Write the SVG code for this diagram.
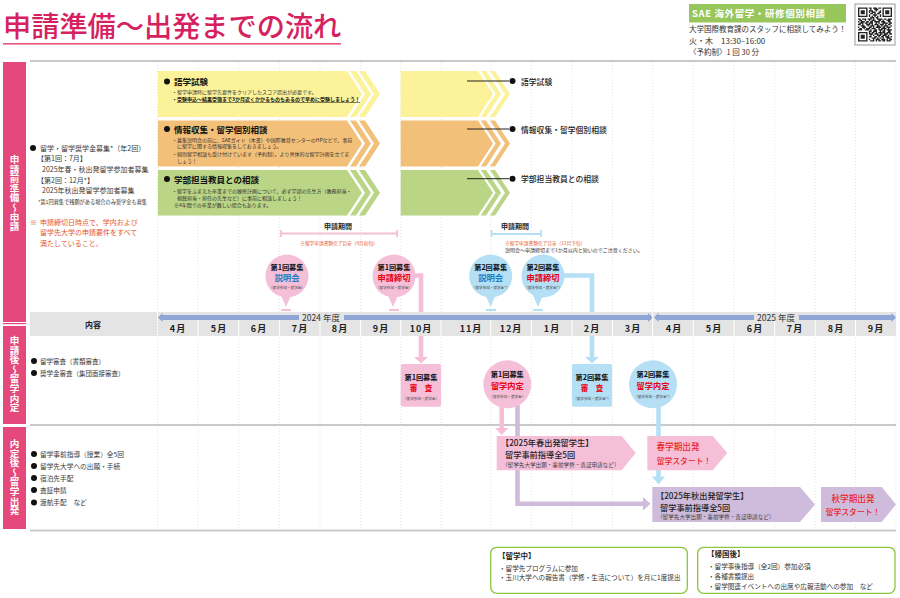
<svg xmlns="http://www.w3.org/2000/svg" width="900" height="598" viewBox="0 0 900 598">
<style>
text{font-family:"Noto Sans CJK JP","Noto Sans",sans-serif;fill:#2a2a2a}
.band{fill:#e5487a}
.bandt{font-size:9.6px;font-weight:700;fill:#fff;writing-mode:vertical-rl;text-anchor:middle}
.rule{stroke:#c9c9c9;stroke-width:2;fill:none}
.grid{stroke:#e6e6e6;stroke-width:1;stroke-dasharray:1 2;fill:none}
.yel{fill:#fbf29a}.ora{fill:#f3c07a}.gre{fill:#b9d585}
.hd{font-size:8.5px;font-weight:700;fill:#111}
.sm{font-size:5px;fill:#333}
.lt{font-size:7px;fill:#3a3a3a}
.or{font-size:7px;fill:#e8562a}
.lb{font-size:7.8px;font-weight:500;fill:#222}
.mon{font-size:9px;font-weight:700;text-anchor:middle;fill:#222;letter-spacing:1px}
.pk{fill:#f6bfd8}.bl{fill:#b5dff5}.pu{fill:#cfbcdc}
.ln{fill:none;stroke-width:4.6}
.tt{font-size:7.2px;font-weight:700;text-anchor:middle;fill:#111}
.rd{font-size:8.2px;font-weight:700;text-anchor:middle;fill:#e60012}
.bu{font-size:8.4px;font-weight:700;text-anchor:middle;fill:#1b7fc4}
.ti{font-size:3.6px;text-anchor:middle;fill:#444}
.pt{font-size:8.2px;font-weight:500;fill:#222}
.ps{font-size:5.6px;fill:#444}
.st{font-size:8.6px;font-weight:500;text-anchor:middle;fill:#e8282a}
.st2{font-size:7.8px}
.bx{fill:#fff;stroke:#8cc63f;stroke-width:1.3}
.bt{font-size:6.6px;fill:#333}
.bh{font-size:7.5px;font-weight:700;fill:#222}
.yr{font-size:8.5px;text-anchor:middle;fill:#333}
.oe{font-size:4.7px;fill:#e8562a}
</style>

<g id="title">
<text x="3" y="37" style="font-size:28.2px;font-weight:500;fill:#d6215f">申請準備～出発までの流れ</text>
<rect x="3" y="43" width="338" height="1.6" fill="#e8567f"/>
</g>

<g id="consult">
<rect x="689" y="4" width="157" height="18.500" fill="#97c65a"/>
<text x="692" y="17" textLength="133" style="font-size:9.5px;font-weight:700;fill:#fff">SAE 海外留学・研修個別相談</text>
<text x="689" y="32" style="font-size:7.5px;fill:#333">大学国際教育課のスタッフに相談してみよう！</text>
<text x="689" y="43.500" style="font-size:8px;fill:#333">火・木　13:30–16:00</text>
<text x="689" y="55" style="font-size:7.5px;fill:#333">〈予約制〉1 回 30 分</text>
</g>

<g id="qr">
<rect x="855" y="4" width="40" height="41" fill="#fff" stroke="#999" stroke-width="1"/>
<g transform="translate(858 7.500) scale(1.36)">
<path d="M.5 .5h6v6h-6zM18.500 .5h6v6h-6zM.5 18.500h6v6h-6z" fill="none" stroke="#222" stroke-width="1"/>
<path d="M2 2h3v3h-3zM20 2h3v3h-3zM2 20h3v3h-3z" fill="#222"/>
<path stroke="#222" stroke-width="1" fill="none" d="M8 .5h2M11 .5h3M15 .5h2M9 1.500h1M12 1.500h3M8 2.500h3M13 2.500h1M16 2.500h1M8 3.500h1M10 3.500h3M15 3.500h2M9 4.500h2M12 4.500h1M14 4.500h2M8 5.500h1M11 5.500h3M16 5.500h1M8 6.500h1M10 6.500h1M12 6.500h1M14 6.500h1M16 6.500h1M9 7.500h3M13 7.500h2M0 8.500h2M3 8.500h3M7 8.500h3M11 8.500h1M14 8.500h4M19 8.500h2M22 8.500h3M1 9.500h2M5 9.500h1M8 9.500h1M10 9.500h3M15 9.500h2M18 9.500h1M21 9.500h3M0 10.500h1M2 10.500h3M6 10.500h2M9 10.500h2M12 10.500h4M17 10.500h3M22 10.500h2M1 11.500h3M5 11.500h2M8 11.500h3M13 11.500h1M15 11.500h1M18 11.500h4M23 11.500h2M0 12.500h2M3 12.500h1M6 12.500h3M10 12.500h1M12 12.500h3M16 12.500h3M20 12.500h1M22 12.500h2M2 13.500h3M7 13.500h1M9 13.500h3M14 13.500h2M17 13.500h1M19 13.500h3M24 13.500h1M0 14.500h1M3 14.500h3M8 14.500h2M11 14.500h1M13 14.500h4M18 14.500h2M21 14.500h3M1 15.500h2M4 15.500h1M6 15.500h3M10 15.500h3M15 15.500h1M17 15.500h4M22 15.500h1M0 16.500h3M5 16.500h3M9 16.500h1M12 16.500h2M15 16.500h3M19 16.500h1M21 16.500h4M8 17.500h2M11 17.500h3M16 17.500h1M18 17.500h2M22 17.500h2M8 18.500h1M10 18.500h2M13 18.500h1M15 18.500h3M8 19.500h3M12 19.500h3M16 19.500h1M9 20.500h1M11 20.500h1M14 20.500h3M8 21.500h2M12 21.500h2M15 21.500h1M10 22.500h3M14 22.500h1M16 22.500h1M8 23.500h1M11 23.500h1M13 23.500h3M9 24.500h3M13 24.500h1M15 24.500h2"/>
<path stroke="#222" stroke-width="1" fill="none" d="M18 18.500h2M21 18.500h3M17 19.500h1M19 19.500h3M23 19.500h2M18 20.500h3M22 20.500h1M17 21.500h2M20 21.500h3M24 21.500h1M18 22.500h1M21 22.500h3M17 23.500h3M21 23.500h1M23 23.500h2M18 24.500h2M21 24.500h3"/>
</g>
</g>

<g id="bands">
<g id="band-1"><rect class="band" x="3" y="62" width="23" height="260"/><rect x="3" y="323" width="23" height="1.200" fill="#e5487a"/><text class="bandt" x="14.500" y="193">申請前準備～申請</text></g>
<g id="band-2"><rect class="band" x="3" y="326" width="23" height="98"/><text class="bandt" x="14.500" y="374">申請後～留学内定</text></g>
<g id="band-3"><rect class="band" x="3" y="427" width="23" height="102"/><text class="bandt" x="14.500" y="477">内定後～留学出発</text></g>
</g>

<g id="grid">
<path class="grid" d="M157.500 62V530M198 62V530M238.800 62V530M279.400 62V530M320 62V530M360.600 62V530M400.700 62V530M441 62V530M490.700 62V530M531.300 62V530M572 62V530M612.500 62V530M652.700 62V530M693.300 62V530M734 62V530M774.700 62V530M815.200 62V530M855.500 62V530M896 62V530"/>
<path class="rule" d="M30 61H896M30 425H896M30 530.500H896"/>
</g>

<g id="lead-text">
<circle cx="33" cy="148" r="3" fill="#111"/>
<text class="lt" x="40" y="150.500">留学・留学奨学金募集*（年2回）</text>
<text class="lt" x="37" y="161">【第1回：7月】</text>
<text class="lt" x="42" y="172">2025年春・秋出発留学参加者募集</text>
<text class="lt" x="37" y="182.500">【第2回：12月*】</text>
<text class="lt" x="42" y="193">2025年秋出発留学参加者募集</text>
<text x="38" y="203.500" style="font-size:5.200px;fill:#333">*第1回募集で残額がある場合のみ奨学金も募集</text>
<text class="or" x="30" y="224.500">※</text>
<text class="or" x="40" y="224.500">申請締切日時点で、学内および</text>
<text class="or" x="40" y="235">留学先大学の申請要件をすべて</text>
<text class="or" x="40" y="246">満たしていること。</text>
<circle cx="34" cy="361" r="3" fill="#111"/><text class="lt" x="40" y="363.500" style="font-size:6.500px">留学審査（書類審査）</text>
<circle cx="34" cy="373" r="3" fill="#111"/><text class="lt" x="40" y="375.500" style="font-size:6.500px">奨学金審査（集団面接審査）</text>
<circle cx="34" cy="454" r="3" fill="#111"/><text class="lt" x="40" y="456.500" style="font-size:6.700px">留学事前指導（授業）全5回</text>
<circle cx="34" cy="466" r="3" fill="#111"/><text class="lt" x="40" y="468.500" style="font-size:6.700px">留学先大学への出願・手続</text>
<circle cx="34" cy="478" r="3" fill="#111"/><text class="lt" x="40" y="480.500" style="font-size:6.700px">宿泊先手配</text>
<circle cx="34" cy="490" r="3" fill="#111"/><text class="lt" x="40" y="492.500" style="font-size:6.700px">査証申請</text>
<circle cx="34" cy="502.500" r="3" fill="#111"/><text class="lt" x="40" y="505" style="font-size:6.700px">渡航手配　など</text>
</g>

<g id="connectors">
<path class="ln" d="M412 275.500H421V358" stroke="#f6bfd8"/>
<path class="pk" d="M414 357H428L421 363.500Z"/>
<path class="ln" d="M560 275.500H592V358" stroke="#b5dff5"/>
<path class="bl" d="M585 357H599L592 363.500Z"/>
<path class="ln" d="M501.700 405V430" stroke="#f6bfd8"/>
<path class="pk" d="M495 428H508.500L501.700 435Z"/>
<path class="ln" d="M517.500 405V503.700H645" stroke="#cfbcdc"/>
<path class="pu" d="M643 497V510.500L650.500 503.700Z"/>
<path class="ln" d="M658.500 405V478" stroke="#b5dff5"/>
<path class="bl" d="M652 476.500H665L658.500 484.500Z"/>
</g>

<g id="month-row">
<rect x="30" y="312" width="127" height="24" fill="#e4e4e4"/>
<text x="93" y="328" style="font-size:8px;font-weight:700;text-anchor:middle;fill:#222">内容</text>
<rect x="158" y="312" width="738" height="24" fill="#e4e4e4"/>
<path d="M198 320V336M238.800 320V336M279.400 320V336M320 320V336M360.600 320V336M400.700 320V336M441 320V336M490.700 320V336M531.300 320V336M572 320V336M612.500 320V336M652.700 312V336M693.300 320V336M734 320V336M774.700 320V336M815.200 320V336M855.500 320V336" stroke="#fff" stroke-width="1"/>
<rect x="160" y="315" width="491" height="5" fill="#8ea6d6"/>
<rect x="656" y="315" width="238" height="5" fill="#8ea6d6"/>
<path d="M158 317.500L162.500 313V322ZM652.500 317.500L648 313V322ZM654 317.500L658.500 313V322ZM896 317.500L891.500 313V322Z" fill="#8ea6d6"/>
<rect x="299" y="314" width="45" height="7" fill="#e4e4e4"/>
<rect x="754" y="314" width="45" height="7" fill="#e4e4e4"/>
<text class="yr" x="321" y="320.500">2024 年度</text>
<text class="yr" x="776" y="320.500">2025 年度</text>
<text class="mon" x="178" y="332">4月</text><text class="mon" x="219" y="332">5月</text><text class="mon" x="259" y="332">6月</text><text class="mon" x="300" y="332">7月</text><text class="mon" x="340" y="332">8月</text><text class="mon" x="381" y="332">9月</text><text class="mon" x="421" y="332">10月</text><text class="mon" x="471" y="332">11月</text><text class="mon" x="511" y="332">12月</text><text class="mon" x="552" y="332">1月</text><text class="mon" x="592" y="332">2月</text><text class="mon" x="633" y="332">3月</text><text class="mon" x="674" y="332">4月</text><text class="mon" x="714" y="332">5月</text><text class="mon" x="755" y="332">6月</text><text class="mon" x="795" y="332">7月</text><text class="mon" x="836" y="332">8月</text><text class="mon" x="876" y="332">9月</text>
</g>

<g id="banner-lang">
<path class="yel" d="M158 71H347L362 94L347 117H158ZM350 71H356L371 94L356 117H350L365 94ZM359 71H365L380 94L365 117H359L374 94Z"/>
<circle cx="167" cy="81.500" r="3" fill="#111"/>
<text class="hd" x="174" y="85">語学試験</text>
<text class="sm" x="172" y="93.500">・留学申請時に留学先要件をクリアしたスコア提出が必要です。</text>
<text class="sm" x="172" y="101" style="font-weight:700;fill:#111">・<tspan text-decoration="underline">受験申込～結果受領まで3か月近くかかるものもあるので早めに受験しましょう！</tspan></text>
</g>
<g id="banner-info">
<path class="ora" d="M158 120.500H347L362 143.500L347 166.500H158ZM350 120.500H356L371 143.500L356 166.500H350L365 143.500ZM359 120.500H365L380 143.500L365 166.500H359L374 143.500Z"/>
<circle cx="167" cy="129" r="3" fill="#111"/>
<text class="hd" x="174" y="132.500">情報収集・留学個別相談</text>
<text class="sm" x="172" y="141.500">・募集説明会の前に、SAEガイド（本書）や国際教育センターのHPなどで、事前</text>
<text class="sm" x="177" y="148">に留学に関する情報収集をしておきましょう。</text>
<text class="sm" x="172" y="155.500">・個別留学相談も受け付けています（予約制）。より具体的な留学計画を立てま</text>
<text class="sm" x="177" y="163">しょう！</text>
</g>
<g id="banner-faculty">
<path class="gre" d="M158 170H347L362 192.800L347 215.500H158ZM350 170H356L371 192.800L356 215.500H350L365 192.800ZM359 170H365L380 192.800L365 215.500H359L374 192.800Z"/>
<circle cx="167" cy="179" r="3" fill="#111"/>
<text class="hd" x="174" y="182.500">学部担当教員との相談</text>
<text class="sm" x="172" y="192.500">・留学をふまえた卒業までの履修計画について、必ず学部の先生方（教務担当・</text>
<text class="sm" x="177" y="199.500">視聴担当・担任の先生など）に事前に相談しましょう！</text>
<text class="sm" x="174" y="206.500">※4年間での卒業が難しい場合もあります。</text>
</g>
<g id="bar-lang">
<path class="yel" d="M400.700 71H478L493 94L478 117H400.700ZM480.700 71H486L501 94L486 117H480.700L495.700 94ZM490 71H495L510 94L495 117H490L505 94Z"/>
</g>
<g id="bar-info">
<path class="ora" d="M400.700 120.500H478L493 143.500L478 166.500H400.700ZM480.700 120.500H486L501 143.500L486 166.500H480.700L495.700 143.500ZM490 120.500H495L510 143.500L495 166.500H490L505 143.500Z"/>
</g>
<g id="bar-faculty">
<path class="gre" d="M400.700 170H478L493 192.800L478 215.500H400.700ZM480.700 170H486L501 192.800L486 215.500H480.700L495.700 192.800ZM490 170H495L510 192.800L495 215.500H490L505 192.800Z"/>
</g>
<g id="leaders">
<path d="M467 81H509M467 129H509M467 178.700H509" stroke="#222" stroke-width="1" fill="none"/>
</g>
<g id="bar-labels">
<circle cx="512.500" cy="81" r="3" fill="#111"/><text class="lb" x="521" y="84.500">語学試験</text>
<circle cx="512.500" cy="129" r="3" fill="#111"/><text class="lb" x="521" y="132.500">情報収集・留学個別相談</text>
<circle cx="512.500" cy="178.700" r="3" fill="#111"/><text class="lb" x="521" y="182">学部担当教員との相談</text>
</g>

<g id="period-1">
<text x="338" y="228.500" style="font-size:7px;font-weight:700;text-anchor:middle;fill:#222">申請期間</text>
<path d="M281 230V237M281 233.500H397M397 230V237" fill="none" stroke="#f6bfd8" stroke-width="1.800"/>
<text class="oe" x="339" y="244.500" text-anchor="middle">※留学申請書類完了目安（9月初旬）</text>
</g>
<g id="period-2">
<text x="515" y="228.500" style="font-size:7px;font-weight:700;text-anchor:middle;fill:#222">申請期間</text>
<path d="M491.500 230V237M491.500 234H541M541 230V237" fill="none" stroke="#b5dff5" stroke-width="1.800"/>
<text class="oe" x="505" y="245">※留学申請書類完了目安（12月下旬）</text>
<text x="505" y="252" style="font-size:5px;fill:#333">説明会～申請締切まで1か月以内と短いのでご注意ください。</text>
</g>

<g id="balloon-1a">
<circle class="pk" cx="287" cy="276" r="21.500"/><path class="pk" d="M280 293H292L286 307Z"/><rect class="pk" x="281" y="309" width="10" height="2"/>
<text class="tt" x="287" y="269.500">第1回募集</text><text class="bu" x="287" y="280.500">説明会</text><text class="ti" x="287" y="288.500">（留学参加・奨学金）</text>
</g>
<g id="balloon-1b">
<circle class="pk" cx="394" cy="276" r="21.500"/><path class="pk" d="M387 293H399L393 307Z"/><rect class="pk" x="389" y="309" width="10" height="2"/>
<text class="tt" x="394" y="269.500">第1回募集</text><text class="rd" x="394" y="280.500">申請締切</text><text class="ti" x="394" y="288.500">（留学参加・奨学金）</text>
</g>
<g id="balloon-2a">
<circle class="bl" cx="490.700" cy="276" r="21.500"/><path class="bl" d="M484.500 293H496.500L490.700 307Z"/><rect class="bl" x="486" y="309" width="10" height="2"/>
<text class="tt" x="490.700" y="269.500">第2回募集</text><text class="bu" x="490.700" y="280.500">説明会</text><text class="ti" x="490.700" y="288.500">（留学参加・奨学金*）</text>
</g>
<g id="balloon-2b">
<circle class="bl" cx="543" cy="276" r="21.500"/><path class="bl" d="M532 293H544L538 307Z"/><rect class="bl" x="533" y="309" width="10" height="2"/>
<text class="tt" x="543" y="269.500">第2回募集</text><text class="rd" x="543" y="280.500">申請締切</text><text class="ti" x="543" y="288.500">（留学参加・奨学金*）</text>
</g>

<g id="review-1">
<rect class="pk" x="400.700" y="364" width="40.300" height="42.700" rx="2"/>
<text class="tt" x="421" y="379.500">第1回募集</text><text class="rd" x="421" y="391" style="font-size:7.500px">審　査</text><text class="ti" x="421" y="399.500">（留学参加・奨学金）</text>
</g>
<g id="result-1">
<circle class="pk" cx="507.300" cy="384.300" r="24"/>
<text class="tt" x="507.300" y="377">第1回募集</text><text class="rd" x="507.300" y="388.500">留学内定</text><text class="ti" x="507.300" y="397.500">（留学参加・奨学金）</text>
</g>
<g id="review-2">
<rect class="bl" x="572" y="364" width="40" height="42.700" rx="2"/>
<text class="tt" x="592" y="379.500">第2回募集</text><text class="rd" x="592" y="391" style="font-size:7.500px">審　査</text><text class="ti" x="592" y="399.500">（留学参加・奨学金*）</text>
</g>
<g id="result-2">
<circle class="bl" cx="653" cy="384.300" r="24"/>
<text class="tt" x="653" y="377">第2回募集</text><text class="rd" x="653" y="388.500">留学内定</text><text class="ti" x="653" y="397.500">（留学参加・奨学金*）</text>
</g>

<g id="spring-guidance">
<path class="pk" d="M496.700 436H621.700L635.700 453L621.700 470.300H496.700Z"/>
<text class="pt" x="501" y="446">【2025年春出発留学生】</text>
<text class="pt" x="505" y="457.500">留学事前指導全5回</text>
<text class="ps" x="502" y="466.500">（留学先大学出願・事前学修・査証申請など）</text>
</g>
<g id="spring-start">
<path class="pk" d="M647.300 436H712.700L727.300 453L712.700 470.300H647.300Z"/>
<text class="st" x="678" y="450">春学期出発</text>
<text class="st st2" x="684" y="464">留学スタート！</text>
</g>
<g id="autumn-guidance">
<path class="pu" d="M652.300 487H800L815 504.500L800 522H652.300Z"/>
<text class="pt" x="656" y="499">【2025年秋出発留学生】</text>
<text class="pt" x="660" y="510.500">留学事前指導全5回</text>
<text class="ps" x="657" y="519">（留学先大学出願・事前学修・査証申請など）</text>
</g>
<g id="autumn-start">
<path class="pu" d="M821 487H881.700L896 504.500L881.700 522H821Z"/>
<text class="st" x="853" y="501.500">秋学期出発</text>
<text class="st st2" x="853" y="514.500">留学スタート！</text>
</g>

<g id="during">
<rect class="bx" x="490.700" y="547.300" width="196.600" height="46" rx="6"/>
<text class="bh" x="498" y="558.500">【留学中】</text>
<text class="bt" x="499" y="570.500">・留学先プログラムに参加</text>
<text class="bt" x="499" y="580">・玉川大学への報告書（学修・生活について）を月に1度提出</text>
</g>
<g id="after">
<rect class="bx" x="697.700" y="547.300" width="197.300" height="46" rx="6"/>
<text class="bh" x="707" y="557">【帰国後】</text>
<text class="bt" x="708" y="568.500">・留学事後指導（全2回）参加必須</text>
<text class="bt" x="708" y="578.500">・各種書類提出</text>
<text class="bt" x="708" y="588.500">・留学関連イベントへの出席や広報活動への参加　など</text>
</g>
</svg>
